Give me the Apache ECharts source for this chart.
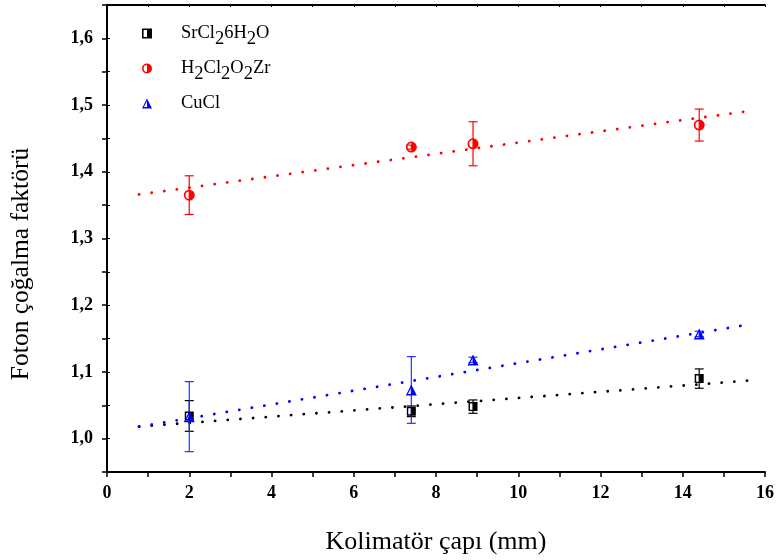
<!DOCTYPE html>
<html><head><meta charset="utf-8">
<script src="https://cdn.jsdelivr.net/npm/echarts@6/dist/echarts.min.js"></script>
<style>html,body{margin:0;padding:0;background:#fff}#c{width:777px;height:560px}</style>
</head><body><div id="c"></div>
<script>
// ---- data ----
const xValues = [2, 7.4, 8.9, 14.4];
const srY   = [1.034, 1.041, 1.048, 1.090];
const srErr = [0.023, 0.008, 0.010, 0.0145];
const zrY   = [1.365, 1.437, 1.442, 1.470];
const zrErr = [0.029, 0.003, 0.033, 0.024];
const cuY   = [1.033, 1.073, 1.118, 1.157];
const cuErr = [0.0525, 0.050, 0.004, 0.004];
// dotted linear-fit lines, endpoints
const fitX   = [0.78, 15.6];
const srFit  = [1.018, 1.087];
const zrFit  = [1.366, 1.491];
const cuFit  = [1.018, 1.171];
const names = ['SrCl26H2O', 'H2Cl2O2Zr', 'CuCl'];
const labelsRich = {
  'SrCl26H2O': 'SrCl{s|2}6H{s|2}O',
  'H2Cl2O2Zr': 'H{s|2}Cl{s|2}O{s|2}Zr',
  'CuCl': 'CuCl'
};
const xTitle = 'Kolimatör çapı (mm)';
const yTitle = 'Foton çoğalma faktörü';

const FONT = '"Liberation Serif", "Times New Roman", serif';
const sqPath = 'path://M0 0H10V10H0Z M1.6 1.6V8.4H5V1.6Z';
const ciPath = 'path://M5 0A5 5 0 1 1 5 10A5 5 0 1 1 5 0Z M5 1.6A3.4 3.4 0 0 0 5 8.4Z';
const trPath = 'path://M5 0L10 10L0 10Z M5 2.8L1.9 8.6L5 8.6Z';

function pts(ys){ return xValues.map((x,i)=>[x, ys[i]]); }
function errData(ys, es){ return xValues.map((x,i)=>[x, ys[i]-es[i], ys[i]+es[i]]); }
function errSeries(ys, es, color){
  return {
    type: 'custom', data: errData(ys, es), z: 3, silent: true,
    renderItem: function(params, api){
      const x = api.value(0);
      const lo = api.coord([x, api.value(1)]);
      const hi = api.coord([x, api.value(2)]);
      const w = 4.5;
      const st = {stroke: color, lineWidth: 1.2};
      return {type: 'group', children: [
        {type:'line', shape:{x1:lo[0],y1:lo[1],x2:hi[0],y2:hi[1]}, style:st},
        {type:'line', shape:{x1:lo[0]-w,y1:lo[1],x2:lo[0]+w,y2:lo[1]}, style:st},
        {type:'line', shape:{x1:hi[0]-w,y1:hi[1],x2:hi[0]+w,y2:hi[1]}, style:st}
      ]};
    }
  };
}
function fitSeries(ys, color){
  return {
    type: 'line', data: fitX.map((x,i)=>[x, ys[i]]), symbol: 'none', z: 2, silent: true,
    lineStyle: {color: color, width: 2.8, type: [0.1, 12.6], cap: 'round'}
  };
}
function scatter(name, ys, sym, color, size){
  return {
    name: name, type: 'scatter', data: pts(ys), symbol: sym, symbolSize: size, z: 5,
    itemStyle: {color: color, opacity: 1}
  };
}

const chart = echarts.init(document.getElementById('c'), null, {renderer: 'canvas'});
chart.setOption({
  animation: false,
  backgroundColor: '#fff',
  grid: {left: 107, right: 11, top: 5, bottom: 88},
  graphic: [{
    type: 'text', x: 21, y: 264, rotation: Math.PI / 2,
    style: {text: yTitle, fontFamily: FONT, fontSize: 25.5, fill: '#000',
      textAlign: 'center', textVerticalAlign: 'middle'}
  }],
  legend: {
    orient: 'vertical', left: 137, top: 19, itemWidth: 10, itemHeight: 10, itemGap: 10.5,
    data: [
      {name: names[0], icon: sqPath, itemStyle:{color:'#000'}},
      {name: names[1], icon: ciPath, itemStyle:{color:'#ff0000'}},
      {name: names[2], icon: trPath, itemStyle:{color:'#0000ff'}}
    ],
    formatter: n => labelsRich[n],
    textStyle: {fontFamily: FONT, fontSize: 18.5, color: '#000', padding: [0,0,0,24],
      rich: {s: {fontFamily: FONT, fontSize: 18.5, color:'#000', padding: [11,0,0,0]}}}
  },
  xAxis: [{
    type: 'value', min: 0, max: 16, interval: 1,
    name: xTitle, nameLocation: 'middle', nameGap: 57,
    nameTextStyle: {fontFamily: FONT, fontSize: 26, color: '#000'},
    axisLine: {show: true, onZero: false, lineStyle: {color:'#000', width: 2}},
    axisTick: {show: true, length: 5, lineStyle: {color:'#000', width: 1.5}},
    axisLabel: {fontFamily: FONT, fontSize: 18, fontWeight: 'bold', color:'#000', margin: 12,
      formatter: v => (Math.round(v) % 2 === 0 ? String(Math.round(v)) : '')},
    splitLine: {show: false}
  }, {
    type: 'value', position: 'top', min: 0, max: 16, interval: 1,
    axisLine: {show: true, lineStyle: {color:'#000', width: 2}},
    axisTick: {show: true, inside: true, length: 2, lineStyle:{color:'#000'}},
    axisLabel: {show: false}, splitLine: {show: false}
  }],
  yAxis: [{
    type: 'value', min: 0.95, max: 1.65, interval: 0.05,
    axisLine: {show: true, onZero: false, lineStyle: {color:'#000', width: 2}},
    axisTick: {show: true, length: 5, lineStyle: {color:'#000', width: 1.5}},
    axisLabel: {fontFamily: FONT, fontSize: 18, fontWeight: 'bold', color:'#000', margin: 14,
      formatter: v => { const k = Math.round(v*100); return (k % 10 === 0 && k >= 100) ? (k/100).toFixed(1).replace('.', ',') : ''; }},
    splitLine: {show: false}
  }, {
    type: 'value', position: 'right', min: 0.95, max: 1.65, interval: 0.05,
    axisLine: {show: true, lineStyle: {color:'#000', width: 2}},
    axisTick: {show: true, length: 3, lineStyle:{color:'#000'}},
    axisLabel: {show: false}, splitLine: {show: false}
  }],
  series: [
    fitSeries(srFit, '#000'),
    fitSeries(zrFit, '#ff0000'),
    fitSeries(cuFit, '#0000ff'),
    errSeries(srY, srErr, '#000'),
    errSeries(zrY, zrErr, '#ff0000'),
    errSeries(cuY, cuErr, '#2233ff'),
    scatter(names[0], srY, sqPath, '#000', 9),
    scatter(names[1], zrY, ciPath, '#ff0000', 11),
    scatter(names[2], cuY, trPath, '#0000ff', 11)
  ]
});
</script></body></html>
